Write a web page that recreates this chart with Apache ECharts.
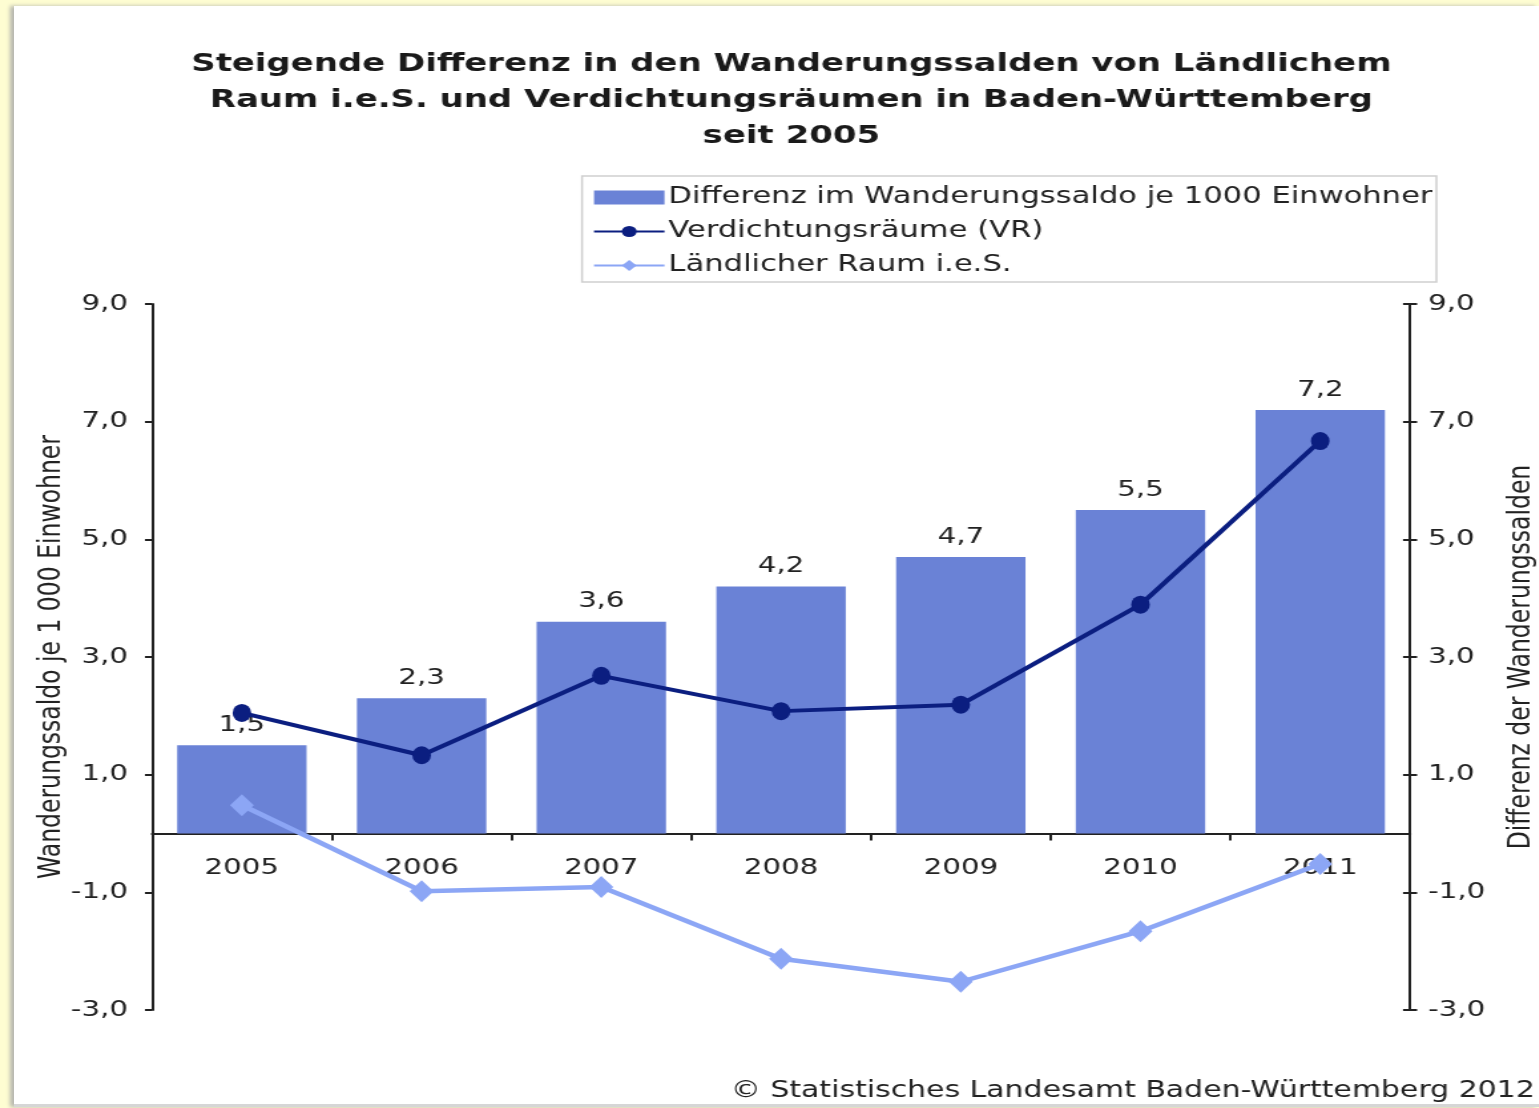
<!DOCTYPE html>
<html>
<head>
<meta charset="utf-8">
<script src="https://cdn.jsdelivr.net/npm/echarts@6/dist/echarts.min.js"></script>
<style>
  html, body { margin: 0; padding: 0; background: #fefdd2; overflow: hidden; }
  #panel { position: absolute; left: 14px; top: 6px; width: 1525px; height: 1098px;
           background: #fff; box-shadow: -4px 0 4px #b8b8b0; border-bottom: 3px solid #d6d6d6; }
  /* the original picture is stretched sideways, so the chart is drawn narrower and widened */
  #chart { position: absolute; left: 0; top: 0; width: 1170px; height: 1108px;
           transform: scaleX(1.33); transform-origin: 0 0; }
</style>
</head>
<body>
<div id="panel"></div>
<div id="chart"></div>
<script>
var years = ['2005', '2006', '2007', '2008', '2009', '2010', '2011'];
var differenz = [1.5, 2.3, 3.6, 4.2, 4.7, 5.5, 7.2];
var verdichtung = [2.05, 1.33, 2.68, 2.08, 2.19, 3.89, 6.67];
var laendlich = [0.48, -0.98, -0.91, -2.13, -2.52, -1.66, -0.52];

var font = 'DejaVu Sans';
var ink = '#222';
function komma(v) { return v.toFixed(1).replace('.', ','); }

var axisLine = { show: true, lineStyle: { color: ink, width: 2 } };
var tickStyle = { color: ink, width: 2 };

var myChart = echarts.init(document.getElementById('chart'));
var option = {
    backgroundColor: 'transparent',
    animation: false,
    textStyle: { fontFamily: font },
    title: {
        text: 'Steigende Differenz in den Wanderungssalden von Ländlichem\nRaum i.e.S. und Verdichtungsräumen in Baden-Württemberg\nseit 2005',
        left: 590, top: 41, textAlign: 'center',
        textStyle: { fontFamily: font, fontSize: 25.5, fontWeight: 'bold', color: '#1a1a1a', lineHeight: 36 }
    },
    legend: {
        orient: 'vertical',
        left: 437.6, top: 176,
        padding: [10, 3, 5, 8],
        borderColor: '#cfcfcf', borderWidth: 1.5,
        itemWidth: 53, itemHeight: 14, itemGap: 11,
        textStyle: { fontFamily: font, fontSize: 23, color: ink, padding: [0, 0, 0, -2] },
        data: [
            { name: 'Differenz im Wanderungssaldo je 1000 Einwohner', icon: 'rect' },
            { name: 'Verdichtungsräume (VR)' },
            { name: 'Ländlicher Raum i.e.S.' }
        ]
    },
    grid: { left: 114.3, right: 109.8, top: 304, bottom: 98, outerBoundsMode: 'none' },
    xAxis: {
        type: 'category',
        data: years,
        offset: -176.5,
        axisLine: { onZero: false, lineStyle: { color: ink, width: 2 } },
        axisTick: { show: true, length: 7, lineStyle: tickStyle },
        axisLabel: { fontFamily: font, fontSize: 22, color: ink, margin: 24 }
    },
    yAxis: [
        {
            type: 'value', min: -3, max: 9, interval: 2,
            name: 'Wanderungssaldo je 1 000 Einwohner',
            nameLocation: 'middle', nameRotate: 90, nameGap: 63, nameMoveOverlap: false,
            nameTextStyle: { fontFamily: font, fontSize: 23.5, color: ink },
            axisLine: axisLine,
            axisTick: { show: true, length: 5.3, lineStyle: tickStyle },
            splitLine: { show: false },
            axisLabel: { fontFamily: font, fontSize: 22, color: ink, margin: 18, formatter: komma }
        },
        {
            type: 'value', min: -3, max: 9, interval: 2, position: 'right',
            name: 'Differenz der Wanderungssalden',
            nameLocation: 'middle', nameRotate: 90, nameGap: 72, nameMoveOverlap: false,
            nameTextStyle: { fontFamily: font, fontSize: 23.5, color: ink },
            axisLine: axisLine,
            axisTick: { show: true, length: 5.3, lineStyle: tickStyle },
            splitLine: { show: false },
            axisLabel: { fontFamily: font, fontSize: 22, color: ink, margin: 13.5, formatter: komma }
        },
        {
            // inner half of the crossing ticks on the right axis
            type: 'value', min: -3, max: 9, interval: 2, position: 'right',
            axisLine: { show: false },
            axisTick: { show: true, inside: true, length: 5.3, lineStyle: tickStyle },
            axisLabel: { show: false },
            splitLine: { show: false }
        }
    ],
    series: [
        {
            name: 'Differenz im Wanderungssaldo je 1000 Einwohner',
            type: 'bar', yAxisIndex: 1,
            data: differenz,
            barWidth: '72%',
            itemStyle: { color: '#6a82d6' },
            label: {
                show: true, position: 'top', distance: 9,
                fontFamily: font, fontSize: 22, color: ink,
                formatter: function (p) { return komma(p.value); }
            },
            z: 1
        },
        {
            name: 'Verdichtungsräume (VR)',
            type: 'line', data: verdichtung,
            symbol: 'circle', symbolSize: [14, 18],
            lineStyle: { color: '#0b1e80', width: 4 },
            itemStyle: { color: '#0b1e80' },
            z: 5
        },
        {
            name: 'Ländlicher Raum i.e.S.',
            type: 'line', data: laendlich,
            symbol: 'diamond', symbolSize: [18, 22],
            lineStyle: { color: '#8ca6f5', width: 4.5 },
            itemStyle: { color: '#8ca6f5' },
            z: 4
        }
    ],
    graphic: [
        {
            type: 'text', right: 16, top: 1080,
            style: { text: '© Statistisches Landesamt Baden-Württemberg 2012', fontFamily: font, fontSize: 22.5, fill: ink }
        }
    ]
};
myChart.setOption(option);
</script>
</body>
</html>
